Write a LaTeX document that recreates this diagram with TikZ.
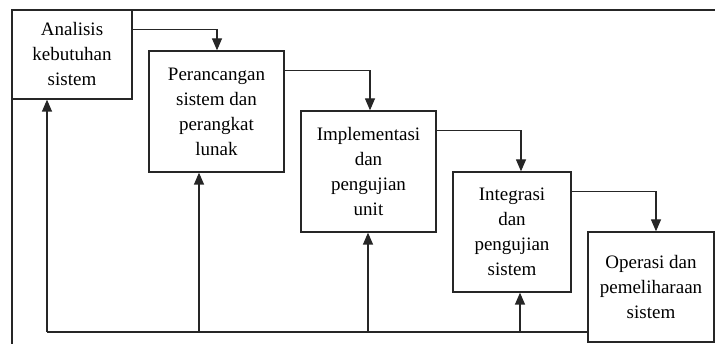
\documentclass[tikz,border=0pt]{standalone}
\usepackage{fontspec}
\setmainfont{Liberation Serif}
\usetikzlibrary{arrows.meta,calc}
\begin{document}
\begin{tikzpicture}[x=1pt,y=-1pt,
  box/.style={draw=black!85,line width=1.3pt,fill=white,rectangle,inner sep=0pt,align=center,
    font=\fontsize{19}{25}\selectfont},
  conn/.style={draw=black!85,line width=1.3pt},
  arr/.style={conn,-{Triangle[length=12pt,width=10pt]}}]
\useasboundingbox (0,0) rectangle (715,344);
% outer frame
\draw[conn] (715,10) -- (12,10) -- (12,344);
% boxes
\node[box,minimum width=120pt,minimum height=89pt] (b1) at (72,54.5) {Analisis\\kebutuhan\\sistem};
\node[box,minimum width=135pt,minimum height=121pt] (b2) at (216.5,111.5) {Perancangan\\sistem dan\\perangkat\\lunak};
\node[box,minimum width=135pt,minimum height=121pt] (b3) at (368.5,171.5) {Implementasi\\dan\\pengujian\\unit};
\node[box,minimum width=118pt,minimum height=120pt] (b4) at (512,232) {Integrasi\\dan\\pengujian\\sistem};
\node[box,minimum width=126pt,minimum height=110pt] (b5) at (651,287) {Operasi dan\\pemeliharaan\\sistem};
% forward connectors
\coordinate (t2) at (217,0);
\coordinate (t3) at (370,0);
\coordinate (t4) at (521,0);
\coordinate (t5) at (656,0);
\draw[arr] ($(b1.north east)+(0,20)$) -| (t2 |- b2.north);
\draw[arr] ($(b2.north east)+(0,20)$) -| (t3 |- b3.north);
\draw[arr] ($(b3.north east)+(0,20)$) -| (t4 |- b4.north);
\draw[arr] ($(b4.north east)+(0,20)$) -| (t5 |- b5.north);
% feedback
\coordinate (f1) at (47,332);
\coordinate (f2) at (199,332);
\coordinate (f3) at (368,332);
\coordinate (f4) at (520,332);
\draw[conn] (f1) -- (f1 -| b5.west);
\draw[arr] (f1) -- (f1 |- b1.south);
\draw[arr] (f2) -- (f2 |- b2.south);
\draw[arr] (f3) -- (f3 |- b3.south);
\draw[arr] (f4) -- (f4 |- b4.south);
\end{tikzpicture}
\end{document}
